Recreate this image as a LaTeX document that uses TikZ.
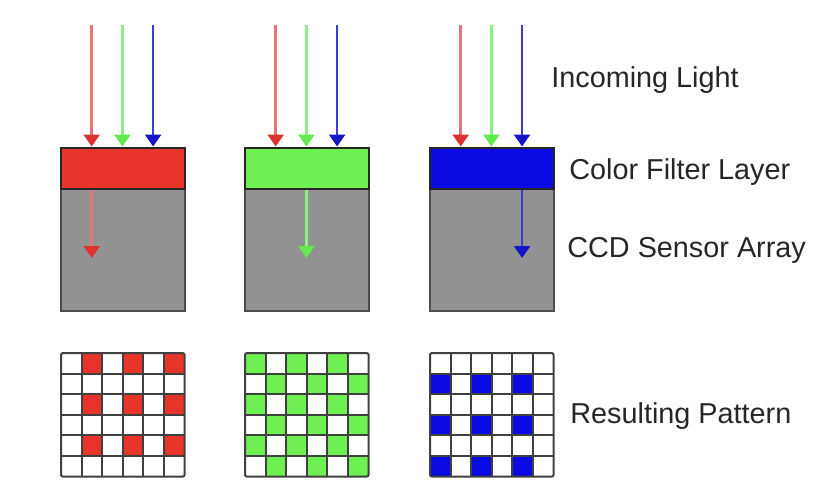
\documentclass[tikz,border=0pt]{standalone}
\usepackage{fontspec}
\setmainfont{Liberation Sans}
\usetikzlibrary{arrows.meta}

\definecolor{fillR}{RGB}{232,52,42}
\definecolor{fillG}{RGB}{110,240,82}
\definecolor{fillB}{RGB}{10,10,228}
\definecolor{rayR}{RGB}{228,118,118}
\definecolor{rayG}{RGB}{140,240,130}
\definecolor{rayB}{RGB}{60,60,210}
\definecolor{headR}{RGB}{220,50,50}
\definecolor{headG}{RGB}{100,232,80}
\definecolor{headB}{RGB}{20,20,200}
\definecolor{sensgray}{RGB}{146,146,146}

\begin{document}
\begin{tikzpicture}[
  x=0.5pt,y=-0.5pt,
  filter/.style={draw=black!85,line width=1pt,minimum width=62pt,minimum height=20.5pt,inner sep=0pt},
  sensor/.style={draw=black!70,line width=1pt,fill=sensgray,minimum width=62pt,minimum height=61.5pt,inner sep=0pt},
  ray/.style 2 args={draw=#1,line width=1.3pt,-{Triangle[width=8pt,length=6pt,color=#2]}},
  gridline/.style={draw=black!75,line width=1pt},
  txt/.style={anchor=base west,inner sep=0pt,text=black!85,font=\fontsize{14.4}{17}\selectfont}
]
  \useasboundingbox (0,0) rectangle (832,500);

  \foreach \c/\i/\x/\k in {R/0/61/1, G/1/245/2, B/2/430/3} {
    % sensor and filter block
    \node[sensor] (sensor\c) at (\x+62,249.5) {};
    \node[filter,fill=fill\c] (filter\c) at (\x+62,168) {};

    % incoming light
    \foreach \j/\rc in {1/R,2/G,3/B} {
      \coordinate (in\c\j) at (\x+30.7*\j,25);
      \draw[ray={ray\rc}{head\rc}] (in\c\j) -- (in\c\j |- filter\c.north);
    }
    \coordinate (hit\c) at (\x+30.7*\k,258);
    \draw[ray={ray\c}{head\c}] (hit\c |- filter\c.south) -- (hit\c);

    % resulting pattern
    \foreach \r in {1,...,6} {
      \foreach \cc in {1,...,6} {
        \pgfmathtruncatemacro\on{ifthenelse(\i==0,and(mod(\r,2)==1,mod(\cc,2)==0),
          ifthenelse(\i==1,mod(\r+\cc,2)==0,and(mod(\r,2)==0,mod(\cc,2)==1)))}
        \ifnum\on=1
          \fill[fill=fill\c] (\x+\cc*20.6-20.6,353+\r*20.6-20.6) rectangle +(20.6,20.6);
        \fi
      }
    }
    \foreach \t in {1,...,5} {
      \draw[gridline] (\x+\t*20.6,353) -- (\x+\t*20.6,476.6);
      \draw[gridline] (\x,353+\t*20.6) -- (\x+123.6,353+\t*20.6);
    }
    \draw[gridline,rounded corners=1pt] (\x,353) rectangle (\x+123.6,476.6);
  }

  \node[txt] (incoming) at (551,87) {Incoming Light};
  \node[txt] (filterlbl) at (569,179) {Color Filter Layer};
  \node[txt] (sensorlbl) at (567,257) {CCD Sensor Array};
  \node[txt] (patternlbl) at (570,423) {Resulting Pattern};
\end{tikzpicture}
\end{document}
